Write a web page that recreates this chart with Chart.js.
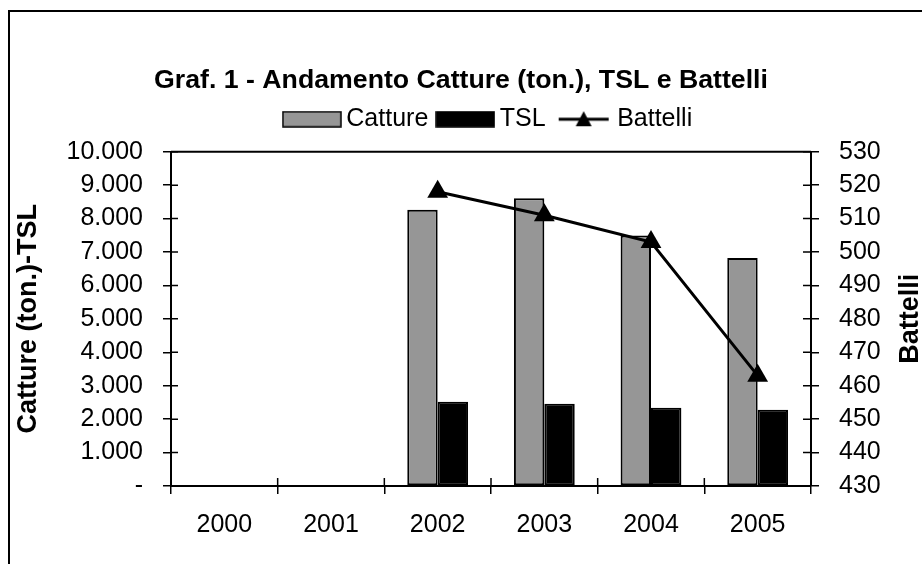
<!DOCTYPE html>
<html>
<head>
<meta charset="utf-8">
<script src="https://cdn.jsdelivr.net/npm/chart.js@4.4.1/dist/chart.umd.min.js"></script>
<style>
  html, body { margin: 0; padding: 0; background: #fff; }
  #chart { display: block; }
</style>
</head>
<body>
<canvas id="chart" width="922" height="564"></canvas>
<script>
// Dati
const anni = ['2000', '2001', '2002', '2003', '2004', '2005'];
const catture = [null, null, 8260, 8610, 7490, 6820];
const tsl = [null, null, 2520, 2460, 2340, 2280];
const battelli = [null, null, 518, 511, 503, 463];

const FONT = "'Liberation Sans', Arial, sans-serif";
Chart.defaults.font.family = FONT;
Chart.defaults.color = '#000';

function fmtMigliaia(v) {
    if (v === 0) return '-';
    return String(v).replace(/\B(?=(\d{3})+(?!\d))/g, '.');
}

// legend symbols
function boxIcon(fill) {
    const c = document.createElement('canvas');
    c.width = 60; c.height = 17;
    const g = c.getContext('2d');
    g.fillStyle = fill;
    g.fillRect(1, 1, 58, 15);
    g.strokeStyle = '#000';
    g.lineWidth = 1.5;
    g.strokeRect(1, 1, 58, 15);
    return c;
}
function lineIcon() {
    const c = document.createElement('canvas');
    c.width = 60; c.height = 20;
    const g = c.getContext('2d');
    g.strokeStyle = '#000';
    g.lineWidth = 3;
    g.beginPath(); g.moveTo(6, 10); g.lineTo(56, 10); g.stroke();
    g.fillStyle = '#000';
    g.beginPath(); g.moveTo(31, 2); g.lineTo(39, 17); g.lineTo(23, 17); g.closePath(); g.fill();
    return c;
}
const legendIcons = [boxIcon('#969696'), boxIcon('#000'), lineIcon()];

// outer frame, plot frame, inner tick marks, right axis title
const extras = {
    id: 'extras',
    beforeDraw(chart) {
        const ctx = chart.ctx;
        ctx.save();
        ctx.strokeStyle = '#000';
        ctx.lineWidth = 2;
        ctx.beginPath();
        ctx.moveTo(9, 564); ctx.lineTo(9, 11); ctx.lineTo(922, 11);
        ctx.stroke();
        ctx.restore();
    },
    beforeDatasetsDraw(chart) {
        const {ctx, chartArea: a, scales} = chart;
        ctx.save();
        ctx.strokeStyle = '#000';
        ctx.lineWidth = 2;
        ctx.beginPath(); ctx.moveTo(a.left, a.top); ctx.lineTo(a.right, a.top); ctx.stroke();
        ctx.lineWidth = 1.5;
        ctx.beginPath();
        scales.y.ticks.forEach((t, i) => {
            const p = scales.y.getPixelForTick(i);
            ctx.moveTo(a.left, p); ctx.lineTo(a.left + 7, p);
        });
        scales.y1.ticks.forEach((t, i) => {
            const p = scales.y1.getPixelForTick(i);
            ctx.moveTo(a.right - 8, p); ctx.lineTo(a.right, p);
        });
        const n = scales.x.ticks.length;
        for (let i = 0; i <= n; i++) {
            let p;
            if (i === 0) p = a.left;
            else if (i === n) p = a.right;
            else p = (scales.x.getPixelForTick(i - 1) + scales.x.getPixelForTick(i)) / 2;
            ctx.moveTo(p, a.bottom - 8); ctx.lineTo(p, a.bottom);
        }
        ctx.stroke();
        ctx.restore();
    },
    afterDraw(chart) {
        const {ctx, chartArea: a} = chart;
        ctx.save();
        ctx.font = 'bold 27px ' + FONT;
        ctx.fillStyle = '#000';
        ctx.textAlign = 'center';
        ctx.textBaseline = 'middle';
        ctx.translate(911, (a.top + a.bottom) / 2);
        ctx.rotate(-Math.PI / 2);
        ctx.fillText('Battelli', 0, 0);
        ctx.restore();
    }
};

const chart = new Chart(document.getElementById('chart'), {
    type: 'bar',
    data: {
        labels: anni,
        datasets: [{
            label: 'Catture',
            data: catture,
            backgroundColor: '#969696',
            borderColor: '#000',
            borderWidth: 2,
            borderSkipped: false,
            yAxisID: 'y',
            order: 1
        }, {
            label: 'TSL',
            data: tsl,
            backgroundColor: '#000',
            borderColor: '#000',
            borderWidth: 2,
            borderSkipped: false,
            yAxisID: 'y',
            order: 2
        }, {
            type: 'line',
            label: 'Battelli',
            data: battelli,
            borderColor: '#000',
            borderWidth: 3,
            pointStyle: 'triangle',
            pointRadius: 12,
            pointBackgroundColor: '#000',
            pointBorderColor: '#000',
            pointBorderWidth: 0,
            yAxisID: 'y1',
            order: 0
        }]
    },
    options: {
        responsive: false,
        animation: false,
        devicePixelRatio: 1,
        layout: { padding: 0 },
        categoryPercentage: 0.57,
        barPercentage: 1,
        plugins: {
            title: {
                display: true,
                text: 'Graf. 1 - Andamento Catture (ton.), TSL e Battelli',
                font: { size: 26.7, weight: 'bold', lineHeight: 1 },
                color: '#000',
                padding: { top: 67.5, bottom: -2.5 }
            },
            subtitle: {
                // spacer between legend and plot
                display: true,
                text: '',
                weight: 500,
                font: { size: 10, lineHeight: 1.0 },
                padding: 0
            },
            legend: {
                weight: 1600,
                fullSize: false,
                labels: {
                    font: { size: 25 },
                    color: '#000',
                    usePointStyle: true,
                    pointStyleWidth: 44,
                    padding: 15,
                    sort: (a, b) => a.datasetIndex - b.datasetIndex,
                    generateLabels(chart) {
                        const items = Chart.defaults.plugins.legend.labels.generateLabels(chart);
                        items.forEach(it => { it.pointStyle = legendIcons[it.datasetIndex]; });
                        return items;
                    }
                }
            },
            tooltip: { enabled: false }
        },
        scales: {
            x: {
                offset: true,
                grid: { offset: true, drawOnChartArea: false, tickLength: 8, color: '#000', lineWidth: 1.5 },
                border: { color: '#000', width: 2 },
                ticks: { font: { size: 25 }, color: '#000', padding: 16, autoSkip: false, maxRotation: 0 },
                afterFit(s) { s.height = 78; }
            },
            y: {
                position: 'left',
                min: 0,
                max: 10000,
                grid: { drawOnChartArea: false, tickLength: 8, color: '#000', lineWidth: 1.5 },
                border: { color: '#000', width: 2 },
                ticks: { stepSize: 1000, font: { size: 25 }, color: '#000', padding: 20, autoSkip: false, callback: v => fmtMigliaia(v) },
                title: { display: true, text: 'Catture (ton.)-TSL', font: { size: 27, weight: 'bold' }, color: '#000', padding: { top: 12, bottom: 0 } },
                afterFit(s) { s.width = 171; }
            },
            y1: {
                position: 'right',
                min: 430,
                max: 530,
                grid: { drawOnChartArea: false, tickLength: 8, color: '#000', lineWidth: 1.5 },
                border: { color: '#000', width: 2 },
                ticks: { stepSize: 10, font: { size: 25 }, color: '#000', padding: 20, autoSkip: false },
                afterFit(s) { s.width = 111; }
            }
        }
    },
    plugins: [extras]
});
</script>
</body>
</html>
